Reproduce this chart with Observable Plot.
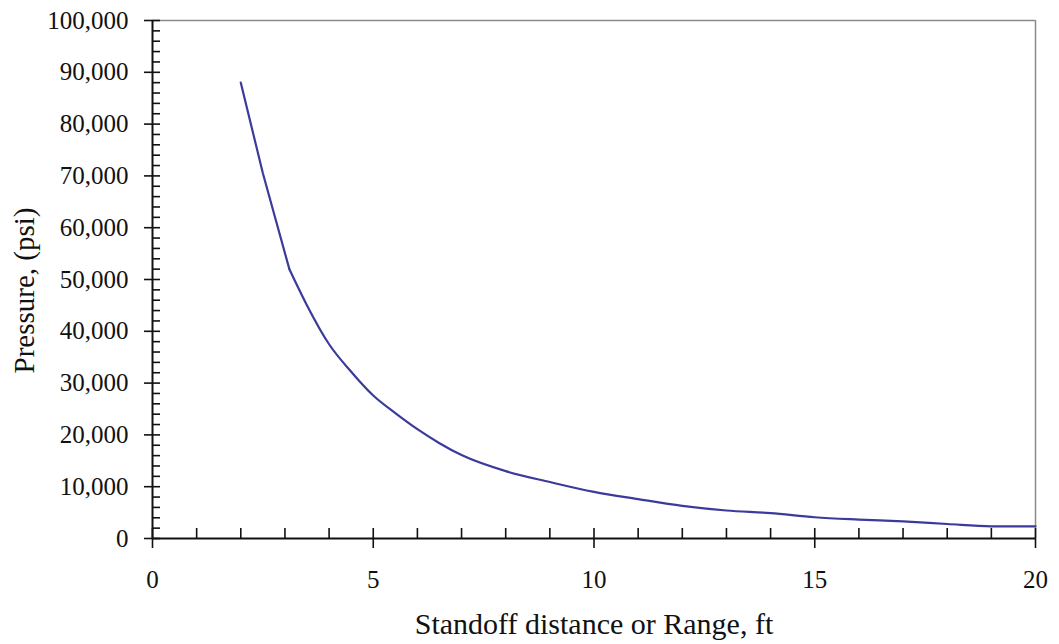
<!DOCTYPE html>
<html>
<head>
<meta charset="utf-8">
<script src="https://cdn.jsdelivr.net/npm/d3@7"></script>
<script src="https://cdn.jsdelivr.net/npm/@observablehq/plot@0.6"></script>
<style>
  html, body { margin: 0; padding: 0; background: #fff; }
  svg { display: block; }
</style>
</head>
<body>
<div id="chart"></div>
<script>
const standoff = [2, 2.5, 3.1, 3.5, 4, 4.5, 5, 5.5, 6, 6.5, 7, 8, 9, 10, 11, 12, 13, 14, 15, 16, 17, 18, 19, 20];
const pressure = [88000, 70500, 52000, 45000, 37500, 32200, 27600, 24200, 21100, 18400, 16100, 13000, 10900, 9000, 7600, 6300, 5400, 4900, 4100, 3650, 3300, 2800, 2350, 2350];
const xMajorTicks = [0, 5, 10, 15, 20];
const xMinorTicks = [1, 2, 3, 4, 6, 7, 8, 9, 11, 12, 13, 14, 16, 17, 18, 19];
const yMajorTicks = [0, 10000, 20000, 30000, 40000, 50000, 60000, 70000, 80000, 90000, 100000];
const yMinorTicks = d3.range(2000, 100000, 2000).filter(v => v % 10000 !== 0);
const xTitle = "Standoff distance or Range, ft";
const yTitle = "Pressure, (psi)";

const data = standoff.map((x, i) => ({x, y: pressure[i]}));
const kinkX = 3.1;
const fmt = d3.format(",");
const font = "'Liberation Serif', 'Times New Roman', serif";
const ink = "#111";
const lineColor = "#3b3b9c";

const chart = Plot.plot({
  width: 1059,
  height: 644,
  marginLeft: 152,
  marginRight: 24,
  marginTop: 20,
  marginBottom: 106,
  style: {fontFamily: font, background: "#fff", color: ink},
  x: {domain: [0, 20]},
  y: {domain: [0, 100000]},
  marks: [
    // frame top/right (gray)
    Plot.ruleY([100000], {stroke: "#8a8a8a", strokeWidth: 1.5}),
    Plot.ruleX([20], {stroke: "#8a8a8a", strokeWidth: 1.5}),
    // y ticks
    Plot.axisY(yMinorTicks, {tickSize: 8, dx: 8, tickFormat: () => "", label: null, stroke: ink, strokeWidth: 1.6}),
    Plot.axisY(yMajorTicks, {tickSize: 16, dx: 8, tickFormat: () => "", label: null, stroke: ink, strokeWidth: 1.6}),
    Plot.axisY(yMajorTicks, {tickSize: 0, tickPadding: 24, tickFormat: fmt, label: null, fontSize: 25, fill: ink}),
    // x ticks
    Plot.axisX(xMinorTicks, {tickSize: 10, dy: -10, tickFormat: () => "", label: null, stroke: ink, strokeWidth: 1.6}),
    Plot.axisX(xMajorTicks, {tickSize: 20, dy: -10, tickFormat: () => "", label: null, stroke: ink, strokeWidth: 1.6}),
    Plot.axisX(xMajorTicks, {tickSize: 0, tickPadding: 32, tickFormat: d => String(d), label: null, fontSize: 25, fill: ink}),
    // axis lines
    Plot.ruleX([0], {stroke: ink, strokeWidth: 2}),
    Plot.ruleY([0], {stroke: ink, strokeWidth: 2}),
    // curve: straight steep part, then smooth decay
    Plot.line(data.filter(d => d.x <= kinkX), {x: "x", y: "y", stroke: lineColor, strokeWidth: 2.2, curve: "linear", strokeLinejoin: "round", strokeLinecap: "round"}),
    Plot.line(data.filter(d => d.x >= kinkX), {x: "x", y: "y", stroke: lineColor, strokeWidth: 2.2, curve: "monotone-x", strokeLinecap: "round"}),
    // titles
    Plot.text([xTitle], {frameAnchor: "bottom", dy: 95, fontSize: 30, fill: ink}),
    Plot.text([yTitle], {frameAnchor: "left", textAnchor: "middle", dx: -128, dy: 11, rotate: -90, fontSize: 29, fill: ink})
  ]
});
document.getElementById("chart").appendChild(chart);
</script>
</body>
</html>
